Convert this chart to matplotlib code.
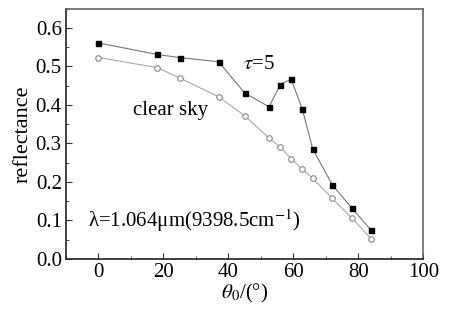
import matplotlib
matplotlib.use("Agg")
import matplotlib.pyplot as plt
from matplotlib.ticker import MultipleLocator

angles = [0, 18, 25, 37, 45, 52.5, 56, 59.3, 62.7, 66, 72, 78, 84]
tau5 = [0.561, 0.531, 0.523, 0.512, 0.431, 0.395, 0.453, 0.467, 0.390, 0.285, 0.192, 0.132, 0.074]
clear_sky = [0.523, 0.497, 0.470, 0.421, 0.372, 0.314, 0.290, 0.260, 0.234, 0.209, 0.157, 0.106, 0.052]
xticks = [0, 20, 40, 60, 80, 100]
yticks = [0.0, 0.1, 0.2, 0.3, 0.4, 0.5, 0.6]

plt.rcParams['font.family'] = ['Liberation Serif', 'DejaVu Serif']
plt.rcParams['mathtext.fontset'] = 'stix'

fs = 15
fig = plt.figure(figsize=(4.54, 3.09), dpi=100)
ax = fig.add_axes([0.1454, 0.162, 0.787, 0.81])

ax.plot(angles, tau5, '-', color='#777777', lw=0.8, marker='s', ms=3.6,
        mfc='black', mec='black')
ax.plot(angles, clear_sky, '-', color='#aaaaaa', lw=0.8, marker='o', ms=4,
        mfc='white', mec='#888888', mew=0.8)

ax.set_xlim(-10, 100)
ax.set_ylim(0.0, 0.65)
ax.set_xticks(xticks)
ax.set_yticks(yticks)
ax.set_yticklabels([f"{v:.1f}" for v in yticks])
ax.xaxis.set_minor_locator(MultipleLocator(10))
ax.yaxis.set_minor_locator(MultipleLocator(0.05))
ax.tick_params(which='both', direction='in', labelsize=fs, color='#333333')
ax.tick_params(which='major', length=4)
ax.tick_params(which='minor', length=2)
ax.tick_params(axis='x', pad=3)
ax.tick_params(axis='y', pad=3)

for s in ['left', 'bottom']:
    ax.spines[s].set_color('#222222')
    ax.spines[s].set_linewidth(1.2)
for s in ['top', 'right']:
    ax.spines[s].set_color('#666666')
    ax.spines[s].set_linewidth(1.2)

ax.set_ylabel('reflectance', fontsize=16, labelpad=2)
ax.set_xlabel(r'$\theta_0$/(°)', fontsize=15, labelpad=0)

ax.text(49.5, 0.505, r'$\tau$=5', fontsize=fs, ha='center', va='center')
ax.text(22.2, 0.385, 'clear sky', fontsize=fs, ha='center', va='center')
ax.text(-3.3, 0.10, 'λ=1.064μm(9398.5cm$^{-1}$)', fontsize=fs, ha='left', va='center')

fig.savefig('out.png', dpi=100)
